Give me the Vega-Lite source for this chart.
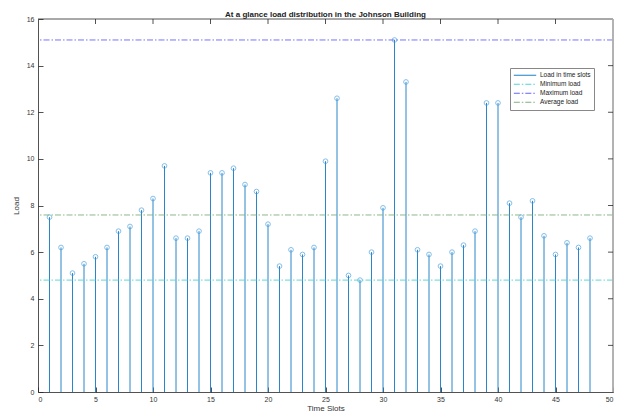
{
  "$schema": "https://vega.github.io/schema/vega-lite/v6.json",
  "width": 575,
  "height": 373,
  "autosize": {"type": "none"},
  "padding": {"left": 38, "top": 19, "right": 7, "bottom": 21},
  "background": "white",
  "title": {"text": "At a glance load distribution in the Johnson Building", "font": "Liberation Sans", "fontSize": 8, "fontWeight": "bold", "color": "#222", "anchor": "middle", "offset": -4},
  "config": {
    "view": {"stroke": null},
    "axis": {"grid": false, "domainColor": "#262626", "domainWidth": 0.8, "tickColor": "#262626", "tickWidth": 0.8, "tickSize": -5, "labelFont": "Liberation Sans", "labelFontSize": 7, "labelColor": "#333", "titleFont": "Liberation Sans", "titleFontSize": 8, "titleFontWeight": "normal", "titleColor": "#333"}
  },
  "datasets": {
    "loads": [
      {"slot": 1, "load": 7.5}, {"slot": 2, "load": 6.2}, {"slot": 3, "load": 5.1}, {"slot": 4, "load": 5.5},
      {"slot": 5, "load": 5.8}, {"slot": 6, "load": 6.2}, {"slot": 7, "load": 6.9}, {"slot": 8, "load": 7.1},
      {"slot": 9, "load": 7.8}, {"slot": 10, "load": 8.3}, {"slot": 11, "load": 9.7}, {"slot": 12, "load": 6.6},
      {"slot": 13, "load": 6.6}, {"slot": 14, "load": 6.9}, {"slot": 15, "load": 9.4}, {"slot": 16, "load": 9.4},
      {"slot": 17, "load": 9.6}, {"slot": 18, "load": 8.9}, {"slot": 19, "load": 8.6}, {"slot": 20, "load": 7.2},
      {"slot": 21, "load": 5.4}, {"slot": 22, "load": 6.1}, {"slot": 23, "load": 5.9}, {"slot": 24, "load": 6.2},
      {"slot": 25, "load": 9.9}, {"slot": 26, "load": 12.6}, {"slot": 27, "load": 5.0}, {"slot": 28, "load": 4.8},
      {"slot": 29, "load": 6.0}, {"slot": 30, "load": 7.9}, {"slot": 31, "load": 15.1}, {"slot": 32, "load": 13.3},
      {"slot": 33, "load": 6.1}, {"slot": 34, "load": 5.9}, {"slot": 35, "load": 5.4}, {"slot": 36, "load": 6.0},
      {"slot": 37, "load": 6.3}, {"slot": 38, "load": 6.9}, {"slot": 39, "load": 12.4}, {"slot": 40, "load": 12.4},
      {"slot": 41, "load": 8.1}, {"slot": 42, "load": 7.5}, {"slot": 43, "load": 8.2}, {"slot": 44, "load": 6.7},
      {"slot": 45, "load": 5.9}, {"slot": 46, "load": 6.4}, {"slot": 47, "load": 6.2}, {"slot": 48, "load": 6.6}
    ],
    "xticks": [{"v": 5}, {"v": 10}, {"v": 15}, {"v": 20}, {"v": 25}, {"v": 30}, {"v": 35}, {"v": 40}, {"v": 45}],
    "yticks": [{"v": 2}, {"v": 4}, {"v": 6}, {"v": 8}, {"v": 10}, {"v": 12}, {"v": 14}],
    "one": [{}]
  },
  "layer": [
    {
      "data": {"name": "loads"},
      "mark": {"type": "rule", "color": "#2a86c9", "strokeWidth": 1},
      "encoding": {
        "x": {"field": "slot", "type": "quantitative", "scale": {"domain": [0, 50], "nice": false}, "axis": {"values": [0,5,10,15,20,25,30,35,40,45,50], "title": "Time Slots", "titlePadding": 2, "labelPadding": 8}},
        "y": {"field": "load", "type": "quantitative", "scale": {"domain": [0, 16], "nice": false}, "axis": {"values": [0,2,4,6,8,10,12,14,16], "title": "Load", "titlePadding": 6, "labelPadding": 9}},
        "y2": {"datum": 0}
      }
    },
    {
      "data": {"name": "loads"},
      "mark": {"type": "point", "shape": "circle", "filled": false, "color": "#3d9be0", "size": 22, "strokeWidth": 0.9},
      "encoding": {
        "x": {"field": "slot", "type": "quantitative"},
        "y": {"field": "load", "type": "quantitative"}
      }
    },
    {
      "data": {"name": "loads"},
      "transform": [
        {"aggregate": [
          {"op": "min", "field": "load", "as": "Minimum load"},
          {"op": "max", "field": "load", "as": "Maximum load"},
          {"op": "mean", "field": "load", "as": "Average load"}
        ]},
        {"fold": ["Minimum load", "Maximum load", "Average load"], "as": ["key", "value"]}
      ],
      "mark": {"type": "rule", "strokeWidth": 0.9},
      "encoding": {
        "y": {"field": "value", "type": "quantitative"},
        "color": {"field": "key", "type": "nominal", "scale": {"domain": ["Load in time slots", "Minimum load", "Maximum load", "Average load"], "range": ["#0072BD", "#4dd4d4", "#6464ff", "#7fb07f"]}, "legend": {"title": null, "orient": "none", "legendX": 472, "legendY": 49, "symbolType": "stroke", "symbolSize": 500, "symbolStrokeWidth": 1, "clipHeight": 8.5, "labelFont": "Liberation Sans", "labelFontSize": 6.5, "labelColor": "#222", "strokeColor": "#888", "fillColor": "white", "padding": 3, "rowPadding": 0, "labelOffset": 3}},
        "strokeDash": {"field": "key", "type": "nominal", "scale": {"domain": ["Load in time slots", "Minimum load", "Maximum load", "Average load"], "range": [[1, 0], [6, 2, 1.5, 2], [6, 2, 1.5, 2], [6, 2, 1.5, 2]]}, "legend": {"title": null, "orient": "none", "legendX": 472, "legendY": 49}}
      }
    },
    {
      "data": {"name": "one"},
      "mark": {"type": "rule", "color": "#262626", "strokeWidth": 0.8},
      "encoding": {"y": {"datum": 16, "type": "quantitative"}}
    },
    {
      "data": {"name": "one"},
      "mark": {"type": "rule", "color": "#ababab", "strokeWidth": 1.8},
      "encoding": {"x": {"datum": 50, "type": "quantitative"}}
    },
    {
      "data": {"name": "xticks"},
      "mark": {"type": "rule", "color": "#262626", "strokeWidth": 0.8},
      "encoding": {"x": {"field": "v", "type": "quantitative"}, "y": {"datum": 16, "type": "quantitative"}, "y2": {"datum": 15.785}}
    },
    {
      "data": {"name": "yticks"},
      "mark": {"type": "rule", "color": "#262626", "strokeWidth": 0.8},
      "encoding": {"y": {"field": "v", "type": "quantitative"}, "x": {"datum": 50, "type": "quantitative"}, "x2": {"datum": 49.565}}
    }
  ]
}
